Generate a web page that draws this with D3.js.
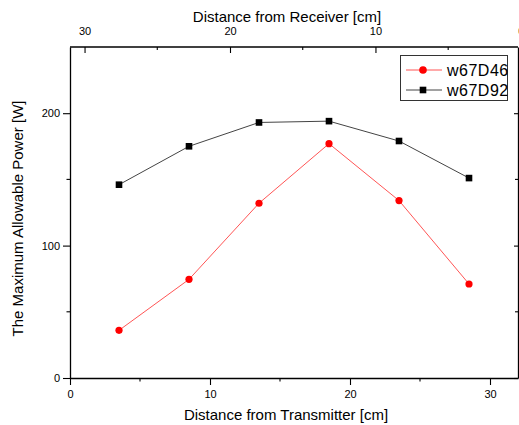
<!DOCTYPE html>
<html><head><meta charset="utf-8">
<script src="https://cdn.jsdelivr.net/npm/d3@7"></script>
<style>body{margin:0;background:#fff}svg{display:block}text{font-family:Arial,"Liberation Sans",sans-serif;fill:#000}</style>
</head><body>
<script>
const xValues = [3.5, 8.5, 13.5, 18.5, 23.5, 28.5];
const seriesD46 = [36, 74.5, 132, 177, 134, 71];
const seriesD92 = [146, 175, 193, 194, 179, 151];
const seriesNames = ["w67D46", "w67D92"];
const bottomTicks = [0, 10, 20, 30];
const topTicks = [30, 20, 10, 0];
const yTicks = [0, 100, 200];

const W = 519, H = 425;
const L = 70, R = 518, T = 47, B = 378;
const svg = d3.select("body").append("svg").attr("width", W).attr("height", H);

const x = d3.scaleLinear().domain([0, 32]).range([L, R]);
const xTop = d3.scaleLinear().domain([31, 0.2]).range([L, R]);
const y = d3.scaleLinear().domain([0, 250]).range([B, T]);

function styleAxis(g){
  g.selectAll("path.domain").attr("stroke","#000").attr("stroke-width",1.3);
  g.selectAll(".tick line").attr("stroke","#000").attr("stroke-width",1.1);
  g.selectAll("text").style("font-size","11px").style("font-family","Arial, 'Liberation Sans', sans-serif");
}

// bottom axis
const gb = svg.append("g").attr("transform",`translate(0,${B})`)
  .call(d3.axisBottom(x).tickValues(bottomTicks).tickSize(7).tickPadding(5).tickSizeOuter(0));
styleAxis(gb);
[5,15,25].forEach(v=>gb.append("line").attr("x1",x(v)).attr("x2",x(v)).attr("y1",0).attr("y2",3.5).attr("stroke","#000").attr("stroke-width",1.1));

// left axis
const gl = svg.append("g").attr("transform",`translate(${L},0)`)
  .call(d3.axisLeft(y).tickValues(yTicks).tickSize(7).tickPadding(3).tickSizeOuter(0));
styleAxis(gl);
[50,150].forEach(v=>gl.append("line").attr("y1",y(v)).attr("y2",y(v)).attr("x1",0).attr("x2",-3.5).attr("stroke","#000").attr("stroke-width",1.1));

// top axis (ticks inward)
const gt = svg.append("g").attr("transform",`translate(0,${T})`)
  .call(d3.axisTop(xTop).tickValues(topTicks).tickSize(-6).tickPadding(12).tickSizeOuter(0));
styleAxis(gt);
gt.select("path.domain").attr("d",`M${L},0H${R}`);
[25,15,5].forEach(v=>gt.append("line").attr("x1",xTop(v)).attr("x2",xTop(v)).attr("y1",0).attr("y2",3).attr("stroke","#000").attr("stroke-width",1.1));

// right axis (ticks inward)
const gr = svg.append("g").attr("transform",`translate(${R},0)`)
  .call(d3.axisRight(y).tickValues(yTicks).tickSize(-4).tickFormat("").tickSizeOuter(0));
styleAxis(gr);
[50,150].forEach(v=>gr.append("line").attr("y1",y(v)).attr("y2",y(v)).attr("x1",0).attr("x2",-3).attr("stroke","#000").attr("stroke-width",1.1));

// axis titles
svg.append("text").attr("x",(L+R)/2 - 7).attr("y",21.5).attr("text-anchor","middle")
  .style("font-size","15px").text("Distance from Receiver [cm]");
svg.append("text").attr("x",(L+R)/2 - 8).attr("y",420).attr("text-anchor","middle")
  .style("font-size","15px").text("Distance from Transmitter [cm]");
svg.append("text").attr("transform",`translate(23,${(T+B)/2+6}) rotate(-90)`).attr("text-anchor","middle")
  .style("font-size","15px").text("The Maximum Allowable Power [W]");

// series
const line = d3.line().x((d,i)=>x(xValues[i])).y(d=>y(d));
svg.append("path").datum(seriesD46).attr("d",line).attr("fill","none").attr("stroke","#ff5555").attr("stroke-width",1);
svg.append("path").datum(seriesD92).attr("d",line).attr("fill","none").attr("stroke","#444").attr("stroke-width",1);
svg.selectAll("circle.d46").data(seriesD46).enter().append("circle")
  .attr("cx",(d,i)=>x(xValues[i])).attr("cy",d=>y(d)).attr("r",3.6).attr("fill","#ff0000");
svg.selectAll("rect.d92").data(seriesD92).enter().append("rect")
  .attr("x",(d,i)=>x(xValues[i])-3.3).attr("y",d=>y(d)-3.3).attr("width",6.6).attr("height",6.6).attr("fill","#000");

// legend
const lg = svg.append("g");
lg.append("rect").attr("x",400.5).attr("y",55.5).attr("width",107).attr("height",45)
  .attr("fill","#fff").attr("stroke","#333").attr("stroke-width",1);
const rows = [{name:seriesNames[0],color:"#ff5555",mk:"c",y:70},{name:seriesNames[1],color:"#444",mk:"s",y:90}];
rows.forEach(r=>{
  lg.append("line").attr("x1",406).attr("x2",442).attr("y1",r.y).attr("y2",r.y).attr("stroke",r.color).attr("stroke-width",1);
  if(r.mk==="c") lg.append("circle").attr("cx",423).attr("cy",r.y).attr("r",3.8).attr("fill","#ff0000");
  else lg.append("rect").attr("x",419.7).attr("y",r.y-3.3).attr("width",6.6).attr("height",6.6).attr("fill","#000");
  lg.append("text").attr("x",447).attr("y",r.y+5.5).style("font-size","16px").style("letter-spacing","0.5px").text(r.name);
});
</script>
</body></html>
